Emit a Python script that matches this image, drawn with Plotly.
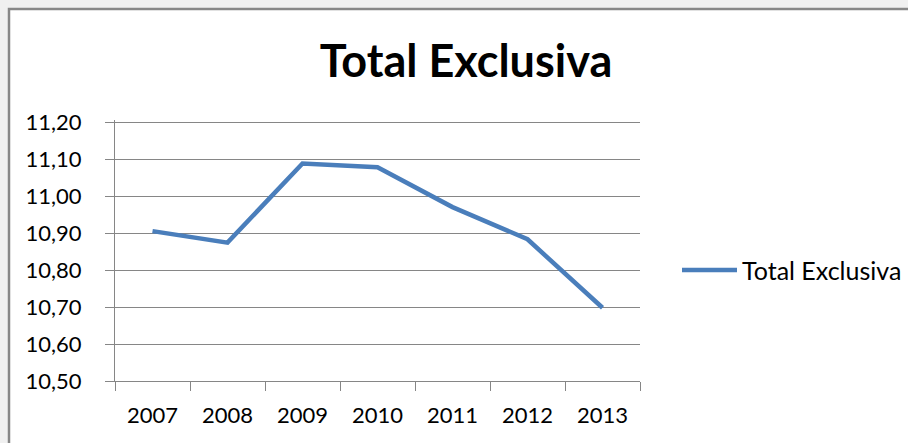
import plotly.graph_objects as go

years = ["2007", "2008", "2009", "2010", "2011", "2012", "2013"]
total_exclusiva = [10.905, 10.874, 11.088, 11.078, 10.970, 10.883, 10.698]
y_ticks = [10.5, 10.6, 10.7, 10.8, 10.9, 11.0, 11.1, 11.2]
series_name = "Total Exclusiva"
chart_title = "Total Exclusiva"

W, H = 908, 443
L, R, T, B = 115, 268, 120, 62
pw, ph = W - L - R, H - T - B
# top of the value scale sits 2px below the top of the plot area,
# so the 11,20 gridline is drawn
y_top_pad = 2 * (y_ticks[-1] - y_ticks[0]) / (ph - 2)

def px_x(p):
    return (p - L) / pw

def px_y(p):
    return (H - B - p) / ph

FONT = "Lato"
GRID = "#868686"
LINE = "#4A7EBB"

fig = go.Figure()
fig.add_trace(go.Scatter(
    x=years, y=total_exclusiva, mode="lines", name=series_name,
    line=dict(color=LINE, width=4.5), showlegend=False,
))

fig.update_layout(
    width=W, height=H,
    margin=dict(l=L, r=R, t=T, b=B, autoexpand=False),
    paper_bgcolor="#F0F0F0",
    plot_bgcolor="rgba(0,0,0,0)",
    separators=",.",
    font=dict(family=FONT, size=22, color="#000000"),
    title=dict(text="<b>" + chart_title + "</b>", x=466 / W, xref="container",
               xanchor="center", y=1 - 61 / H, yref="container", yanchor="middle",
               font=dict(family=FONT, size=45, color="#000000")),
    showlegend=False,
    xaxis=dict(type="category", range=[-0.5, len(years) - 0.5],
               tickson="boundaries", ticks="outside",
               ticklen=9, tickcolor=GRID, tickwidth=1,
               showline=True, linecolor=GRID, linewidth=1,
               showgrid=False, zeroline=False, ticklabelstandoff=15),
    yaxis=dict(range=[y_ticks[0], y_ticks[-1] + y_top_pad], tickvals=y_ticks,
               tickformat=".2f",
               ticks="outside", ticklen=9, tickcolor=GRID, tickwidth=1,
               showline=True, linecolor=GRID, linewidth=1,
               showgrid=True, gridcolor=GRID, gridwidth=1,
               zeroline=False, ticklabelstandoff=19),
)

# chart frame
fig.add_shape(type="rect", xref="paper", yref="paper",
              x0=px_x(9), x1=px_x(1200), y0=px_y(900), y1=px_y(9),
              fillcolor="#FFFFFF", line=dict(color="#878787", width=2.5),
              layer="below")

# legend (line sample + label)
fig.add_shape(type="line", xref="paper", yref="paper",
              x0=px_x(682), x1=px_x(737), y0=px_y(270), y1=px_y(270),
              line=dict(color=LINE, width=4.5))
fig.add_annotation(text=series_name, xref="paper", yref="paper",
                   x=px_x(740), y=px_y(270), xanchor="left", yanchor="middle",
                   showarrow=False, font=dict(family=FONT, size=25, color="#000000"))

fig.write_html("out.html", config={"displayModeBar": False},
               post_script="document.body.style.margin='0';")
